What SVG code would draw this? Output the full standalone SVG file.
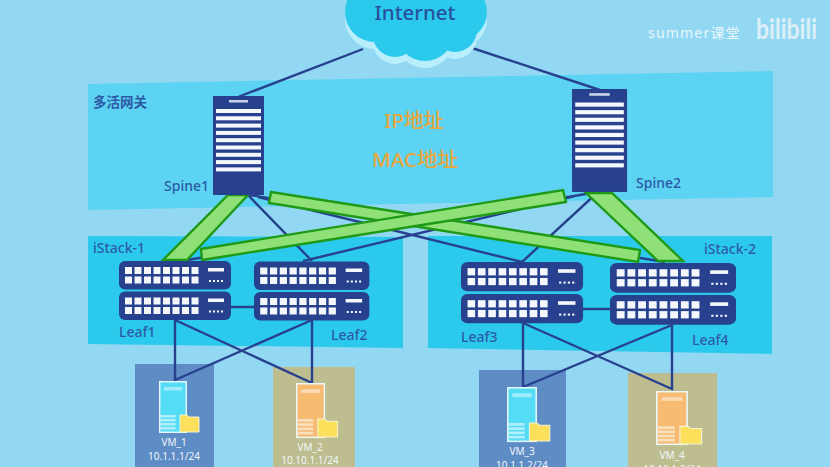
<svg xmlns="http://www.w3.org/2000/svg" xmlns:xlink="http://www.w3.org/1999/xlink" width="830" height="467" viewBox="0 0 830 467">
<style>
text{font-family:"Noto Sans","Noto Sans CJK SC",sans-serif}
.lbl{fill:#2D5AA6;font-size:14px;font-weight:500}
.vm{fill:#F1F8FB;font-size:10px;text-anchor:middle}
.link{stroke:#27418F;stroke-width:2.4;fill:none}
.bar{fill:#8FE077;stroke:#1F9A16;stroke-width:2.4;stroke-linejoin:miter}
.addr{fill:#E9A63C;font-weight:500;text-anchor:middle}
</style>
<defs>
<g id="ports">
<rect x="0" y="0" width="7" height="7"/><rect x="9.5" y="0" width="7" height="7"/><rect x="19" y="0" width="7" height="7"/><rect x="28.5" y="0" width="7" height="7"/><rect x="38" y="0" width="7" height="7"/><rect x="47.5" y="0" width="7" height="7"/><rect x="57" y="0" width="7" height="7"/><rect x="66.5" y="0" width="7" height="7"/>
</g>
<g id="switch">
<rect width="112" height="28.5" rx="6" fill="#27418F"/>
<g fill="#F4F8FC"><use xlink:href="#ports" x="6" y="6"/><use xlink:href="#ports" x="6" y="15.5"/>
<rect x="89" y="7" width="16" height="3.5"/><rect x="90" y="19" width="2" height="2"/><rect x="94" y="19" width="2" height="2"/><rect x="98" y="19" width="2" height="2"/><rect x="102" y="19" width="2" height="2"/></g>
</g>
<g id="spine">
<rect width="51" height="99" fill="#27418F"/>
<rect x="16" y="4" width="19" height="2.5" fill="#C9D6EA"/>
<g fill="#F4F8FC"><rect x="3" y="13" width="45" height="4"/><rect x="3" y="20.3" width="45" height="4"/><rect x="3" y="27.6" width="45" height="4"/><rect x="3" y="34.9" width="45" height="4"/><rect x="3" y="42.2" width="45" height="4"/><rect x="3" y="49.5" width="45" height="4"/><rect x="3" y="56.8" width="45" height="4"/><rect x="3" y="64.1" width="45" height="4"/><rect x="3" y="71.4" width="45" height="4"/></g>
</g>
<g id="server">
<rect x="0.7" y="0.7" width="26.6" height="50.6" fill="currentColor" stroke="#EAF8FC" stroke-width="1.4"/>
<rect x="5" y="6" width="18" height="3.5" fill="#FFFFFF" opacity=".45"/>
<g fill="#FFFFFF" opacity=".55"><rect x="1.5" y="34" width="15" height="2.5"/><rect x="1.5" y="38" width="15" height="2.5"/><rect x="1.5" y="42" width="15" height="2.5"/><rect x="1.5" y="46" width="15" height="2.5"/></g>
<path d="M21 34h7l2 2h10v15H21z" fill="#FCE05B" stroke="#F5F2D2" stroke-width="1"/>
</g>
<g id="puff"><circle cx="375" cy="12" r="30"/><circle cx="395" cy="35" r="22"/><circle cx="425" cy="32" r="29"/><circle cx="455" cy="30" r="22"/><circle cx="458" cy="12" r="29"/><rect x="375" y="-10" width="85" height="40"/></g>
</defs>

<rect width="830" height="467" fill="#93D8F3"/>
<polygon points="88,84 773,71 773,197 88,210" fill="#5CD3F2"/>
<polygon points="88,236 403,237 403,348 88,344" fill="#2BCAED"/>
<polygon points="428,236 772,236 772,354 428,348" fill="#2BCAED"/>
<rect id="vmbox1" x="135" y="364" width="79" height="103" fill="#5E8CC4"/>
<rect id="vmbox2" x="273" y="367" width="82" height="100" fill="#BDBD8F"/>
<rect id="vmbox3" x="479" y="370" width="87" height="97" fill="#5E8CC4"/>
<rect id="vmbox4" x="628" y="373" width="89" height="94" fill="#BDBD8F"/>

<g id="connectors">
<path class="link" d="M363,49L238,97M472,48L600,90"/>
<path class="link" d="M248,195L312,261M250,195L665,262M598,192L175,262M598,192L522,262M575,196L303,261"/>
<path class="link" d="M258,197L522,262"/>
<path class="link" d="M230,307H254M583,309H610"/>
<path class="link" d="M175,320V380L312,320V383L175,320M523,323V387L672,325V389L523,323"/>
<polygon class="bar" points="228,195 248,195 187,260 163,260"/>
<polygon class="bar" points="586,193 612,193 683,261 658,261"/>
<polygon class="bar" points="271,192 640,250 638,262 269,203"/>
<polygon class="bar" points="201,249 563,190 566,202 202,260"/>
</g>

<g id="internet">
<use xlink:href="#puff" y="7" fill="#B9EEFD"/>
<use xlink:href="#puff" fill="#2BCAED"/>
<text x="415" y="20" font-size="20.5" font-weight="500" fill="#27509F" text-anchor="middle">Internet</text>
</g>

<g id="spine1"><use xlink:href="#spine" x="213" y="96"/><text class="lbl" x="164" y="191">Spine1</text></g>
<g id="spine2"><use xlink:href="#spine" transform="translate(572,89) scale(1.08,1.04)"/><text class="lbl" x="636" y="188">Spine2</text></g>

<g id="leaf1"><use xlink:href="#switch" transform="translate(119,261)"/><use xlink:href="#switch" transform="translate(119,291.5)"/><text class="lbl" x="119" y="337">Leaf1</text></g>
<g id="leaf2"><use xlink:href="#switch" transform="translate(254,261.5) scale(1.03,1)"/><use xlink:href="#switch" transform="translate(254,292) scale(1.03,1)"/><text class="lbl" x="331" y="340">Leaf2</text></g>
<g id="leaf3"><use xlink:href="#switch" transform="translate(461,262) scale(1.09,1.03)"/><use xlink:href="#switch" transform="translate(461,294) scale(1.09,1.03)"/><text class="lbl" x="461" y="342">Leaf3</text></g>
<g id="leaf4"><use xlink:href="#switch" transform="translate(610,263) scale(1.125,1.04)"/><use xlink:href="#switch" transform="translate(610,295) scale(1.125,1.04)"/><text class="lbl" x="692" y="345">Leaf4</text></g>

<g id="vm1"><use xlink:href="#server" transform="translate(159,381)" color="#55DDF7"/><text class="vm" x="174" y="446">VM_1</text><text class="vm" x="174" y="460">10.1.1.1/24</text></g>
<g id="vm2"><use xlink:href="#server" transform="translate(296,383) scale(1.04,1.06)" color="#F7BC72"/><text class="vm" x="310" y="451">VM_2</text><text class="vm" x="310" y="464">10.10.1.1/24</text></g>
<g id="vm3"><use xlink:href="#server" transform="translate(507,387) scale(1.07,1.06)" color="#55DDF7"/><text class="vm" x="522" y="455">VM_3</text><text class="vm" x="522" y="469">10.1.1.2/24</text></g>
<g id="vm4"><use xlink:href="#server" transform="translate(656,391) scale(1.14,1.04)" color="#F7BC72"/><text class="vm" x="672" y="459">VM_4</text><text class="vm" x="672" y="473">10.10.1.2/24</text></g>

<text class="lbl" x="93" y="107" font-weight="700" style="font-size:13.5px;font-weight:700">多活网关</text>
<text class="lbl" x="93" y="253">iStack-1</text>
<text class="lbl" x="704" y="254">iStack-2</text>
<text class="addr" x="414" y="128" font-size="20">IP地址</text>
<text class="addr" x="415" y="167" font-size="20.5">MAC地址</text>
<text x="648" y="38" fill="#E8F7FC" font-size="14" letter-spacing="1.2">summer课堂</text>
<text x="756" y="39" fill="#DCEFF7" font-size="28" font-weight="700" textLength="61" lengthAdjust="spacingAndGlyphs" style="font-family:Lato,sans-serif">bilibili</text>
</svg>
